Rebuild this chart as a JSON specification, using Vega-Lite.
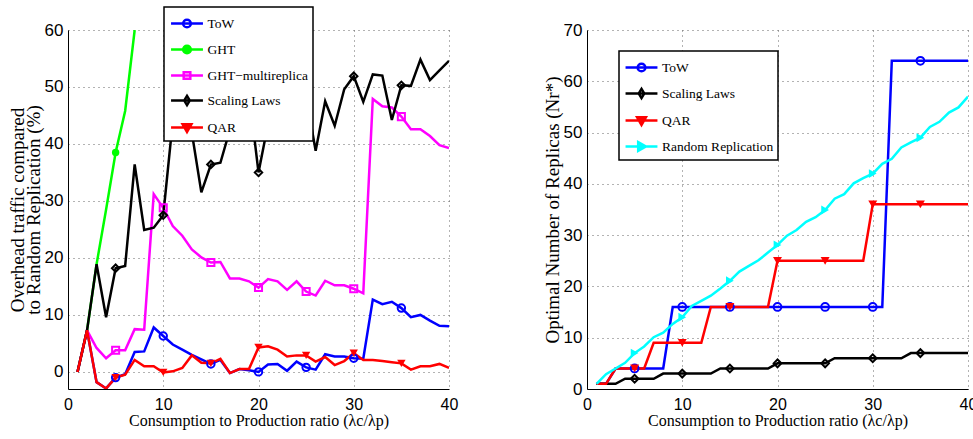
{
  "$schema": "https://vega.github.io/schema/vega-lite/v6.json",
  "padding": {"left": 8, "top": 6, "right": 5, "bottom": 5},
  "background": "white",
  "bounds": "flush",
  "spacing": 138,
  "datasets": {
    "left": [
      {"x":1,"series":"ToW","y":0},{"x":2,"series":"ToW","y":7.3},{"x":3,"series":"ToW","y":-1.8},{"x":4,"series":"ToW","y":-2.9},{"x":5,"series":"ToW","y":-1.0},{"x":6,"series":"ToW","y":-0.4},{"x":7,"series":"ToW","y":3.5},{"x":8,"series":"ToW","y":3.6},{"x":9,"series":"ToW","y":7.8},{"x":10,"series":"ToW","y":6.3},
      {"x":11,"series":"ToW","y":4.8},{"x":12,"series":"ToW","y":3.9},{"x":13,"series":"ToW","y":3.0},{"x":14,"series":"ToW","y":2.2},{"x":15,"series":"ToW","y":1.4},{"x":16,"series":"ToW","y":2.1},{"x":17,"series":"ToW","y":-0.2},{"x":18,"series":"ToW","y":0.5},{"x":19,"series":"ToW","y":0.3},{"x":20,"series":"ToW","y":0.0},
      {"x":21,"series":"ToW","y":1.3},{"x":22,"series":"ToW","y":1.4},{"x":23,"series":"ToW","y":0.2},{"x":24,"series":"ToW","y":1.8},{"x":25,"series":"ToW","y":0.8},{"x":26,"series":"ToW","y":0.4},{"x":27,"series":"ToW","y":3.1},{"x":28,"series":"ToW","y":2.7},{"x":29,"series":"ToW","y":2.7},{"x":30,"series":"ToW","y":2.4},
      {"x":31,"series":"ToW","y":2.3},{"x":32,"series":"ToW","y":12.7},{"x":33,"series":"ToW","y":11.9},{"x":34,"series":"ToW","y":12.3},{"x":35,"series":"ToW","y":11.2},{"x":36,"series":"ToW","y":9.6},{"x":37,"series":"ToW","y":10.0},{"x":38,"series":"ToW","y":9.0},{"x":39,"series":"ToW","y":8.1},{"x":40,"series":"ToW","y":8.0},
      {"x":1,"series":"GHT","y":0},{"x":2,"series":"GHT","y":7.3},{"x":3,"series":"GHT","y":18.9},{"x":4,"series":"GHT","y":28.5},{"x":5,"series":"GHT","y":38.5},{"x":6,"series":"GHT","y":45.8},{"x":7,"series":"GHT","y":60},
      {"x":1,"series":"GHT−multireplica","y":0},{"x":2,"series":"GHT−multireplica","y":7.3},{"x":3,"series":"GHT−multireplica","y":4.2},{"x":4,"series":"GHT−multireplica","y":2.4},{"x":5,"series":"GHT−multireplica","y":3.8},{"x":6,"series":"GHT−multireplica","y":3.8},{"x":7,"series":"GHT−multireplica","y":7.5},{"x":8,"series":"GHT−multireplica","y":7.4},{"x":9,"series":"GHT−multireplica","y":31.2},{"x":10,"series":"GHT−multireplica","y":28.8},
      {"x":11,"series":"GHT−multireplica","y":25.6},{"x":12,"series":"GHT−multireplica","y":23.9},{"x":13,"series":"GHT−multireplica","y":21.5},{"x":14,"series":"GHT−multireplica","y":20.1},{"x":15,"series":"GHT−multireplica","y":19.2},{"x":16,"series":"GHT−multireplica","y":19.3},{"x":17,"series":"GHT−multireplica","y":16.4},{"x":18,"series":"GHT−multireplica","y":16.4},{"x":19,"series":"GHT−multireplica","y":15.9},{"x":20,"series":"GHT−multireplica","y":14.8},
      {"x":21,"series":"GHT−multireplica","y":16.3},{"x":22,"series":"GHT−multireplica","y":15.9},{"x":23,"series":"GHT−multireplica","y":14.4},{"x":24,"series":"GHT−multireplica","y":15.9},{"x":25,"series":"GHT−multireplica","y":14.1},{"x":26,"series":"GHT−multireplica","y":13.4},{"x":27,"series":"GHT−multireplica","y":16.0},{"x":28,"series":"GHT−multireplica","y":15.2},{"x":29,"series":"GHT−multireplica","y":15.2},{"x":30,"series":"GHT−multireplica","y":14.6},
      {"x":31,"series":"GHT−multireplica","y":13.8},{"x":32,"series":"GHT−multireplica","y":47.9},{"x":33,"series":"GHT−multireplica","y":46.6},{"x":34,"series":"GHT−multireplica","y":46.4},{"x":35,"series":"GHT−multireplica","y":44.8},{"x":36,"series":"GHT−multireplica","y":42.6},{"x":37,"series":"GHT−multireplica","y":42.6},{"x":38,"series":"GHT−multireplica","y":41.4},{"x":39,"series":"GHT−multireplica","y":39.8},{"x":40,"series":"GHT−multireplica","y":39.3},
      {"x":1,"series":"Scaling Laws","y":0},{"x":2,"series":"Scaling Laws","y":7.3},{"x":3,"series":"Scaling Laws","y":18.9},{"x":4,"series":"Scaling Laws","y":9.6},{"x":5,"series":"Scaling Laws","y":18.2},{"x":6,"series":"Scaling Laws","y":18.6},{"x":7,"series":"Scaling Laws","y":36.4},{"x":8,"series":"Scaling Laws","y":24.9},{"x":9,"series":"Scaling Laws","y":25.3},{"x":10,"series":"Scaling Laws","y":27.5},
      {"x":11,"series":"Scaling Laws","y":44},{"x":12,"series":"Scaling Laws","y":47},{"x":13,"series":"Scaling Laws","y":42},{"x":14,"series":"Scaling Laws","y":31.5},{"x":15,"series":"Scaling Laws","y":36.4},{"x":16,"series":"Scaling Laws","y":36.7},{"x":17,"series":"Scaling Laws","y":42.5},{"x":18,"series":"Scaling Laws","y":46},{"x":19,"series":"Scaling Laws","y":49},{"x":20,"series":"Scaling Laws","y":35.0},
      {"x":21,"series":"Scaling Laws","y":43.5},{"x":22,"series":"Scaling Laws","y":47},{"x":23,"series":"Scaling Laws","y":44},{"x":24,"series":"Scaling Laws","y":49},{"x":25,"series":"Scaling Laws","y":48.4},{"x":26,"series":"Scaling Laws","y":38.8},{"x":27,"series":"Scaling Laws","y":47.5},{"x":28,"series":"Scaling Laws","y":43.2},{"x":29,"series":"Scaling Laws","y":49.6},{"x":30,"series":"Scaling Laws","y":51.9},
      {"x":31,"series":"Scaling Laws","y":47.4},{"x":32,"series":"Scaling Laws","y":52.2},{"x":33,"series":"Scaling Laws","y":52.0},{"x":34,"series":"Scaling Laws","y":44.2},{"x":35,"series":"Scaling Laws","y":50.3},{"x":36,"series":"Scaling Laws","y":50.2},{"x":37,"series":"Scaling Laws","y":54.8},{"x":38,"series":"Scaling Laws","y":51.2},{"x":39,"series":"Scaling Laws","y":52.9},{"x":40,"series":"Scaling Laws","y":54.6},
      {"x":1,"series":"QAR","y":0},{"x":2,"series":"QAR","y":7.3},{"x":3,"series":"QAR","y":-1.8},{"x":4,"series":"QAR","y":-2.9},{"x":5,"series":"QAR","y":-1.0},{"x":6,"series":"QAR","y":-0.5},{"x":7,"series":"QAR","y":2.1},{"x":8,"series":"QAR","y":1.0},{"x":9,"series":"QAR","y":1.0},{"x":10,"series":"QAR","y":-0.1},
      {"x":11,"series":"QAR","y":0.1},{"x":12,"series":"QAR","y":0.7},{"x":13,"series":"QAR","y":2.9},{"x":14,"series":"QAR","y":1.6},{"x":15,"series":"QAR","y":1.5},{"x":16,"series":"QAR","y":2.3},{"x":17,"series":"QAR","y":-0.2},{"x":18,"series":"QAR","y":0.5},{"x":19,"series":"QAR","y":0.5},{"x":20,"series":"QAR","y":4.3},
      {"x":21,"series":"QAR","y":4.5},{"x":22,"series":"QAR","y":3.9},{"x":23,"series":"QAR","y":2.7},{"x":24,"series":"QAR","y":2.9},{"x":25,"series":"QAR","y":2.9},{"x":26,"series":"QAR","y":1.8},{"x":27,"series":"QAR","y":2.6},{"x":28,"series":"QAR","y":1.2},{"x":29,"series":"QAR","y":1.9},{"x":30,"series":"QAR","y":3.3},
      {"x":31,"series":"QAR","y":2.1},{"x":32,"series":"QAR","y":2.1},{"x":33,"series":"QAR","y":1.9},{"x":34,"series":"QAR","y":1.7},{"x":35,"series":"QAR","y":1.5},{"x":36,"series":"QAR","y":0.4},{"x":37,"series":"QAR","y":1.0},{"x":38,"series":"QAR","y":1.0},{"x":39,"series":"QAR","y":1.4},{"x":40,"series":"QAR","y":0.7}
    ],
    "right": [
      {"x":1,"series":"ToW","y":1},{"x":2,"series":"ToW","y":1},{"x":3,"series":"ToW","y":4},{"x":4,"series":"ToW","y":4},{"x":5,"series":"ToW","y":4},{"x":6,"series":"ToW","y":4},{"x":7,"series":"ToW","y":4},{"x":8,"series":"ToW","y":4},{"x":9,"series":"ToW","y":16},{"x":10,"series":"ToW","y":16},
      {"x":11,"series":"ToW","y":16},{"x":12,"series":"ToW","y":16},{"x":13,"series":"ToW","y":16},{"x":14,"series":"ToW","y":16},{"x":15,"series":"ToW","y":16},{"x":16,"series":"ToW","y":16},{"x":17,"series":"ToW","y":16},{"x":18,"series":"ToW","y":16},{"x":19,"series":"ToW","y":16},{"x":20,"series":"ToW","y":16},
      {"x":21,"series":"ToW","y":16},{"x":22,"series":"ToW","y":16},{"x":23,"series":"ToW","y":16},{"x":24,"series":"ToW","y":16},{"x":25,"series":"ToW","y":16},{"x":26,"series":"ToW","y":16},{"x":27,"series":"ToW","y":16},{"x":28,"series":"ToW","y":16},{"x":29,"series":"ToW","y":16},{"x":30,"series":"ToW","y":16},
      {"x":31,"series":"ToW","y":16},{"x":32,"series":"ToW","y":64},{"x":33,"series":"ToW","y":64},{"x":34,"series":"ToW","y":64},{"x":35,"series":"ToW","y":64},{"x":36,"series":"ToW","y":64},{"x":37,"series":"ToW","y":64},{"x":38,"series":"ToW","y":64},{"x":39,"series":"ToW","y":64},{"x":40,"series":"ToW","y":64},
      {"x":1,"series":"Scaling Laws","y":1},{"x":2,"series":"Scaling Laws","y":1},{"x":3,"series":"Scaling Laws","y":1},{"x":4,"series":"Scaling Laws","y":2},{"x":5,"series":"Scaling Laws","y":2},{"x":6,"series":"Scaling Laws","y":2},{"x":7,"series":"Scaling Laws","y":2},{"x":8,"series":"Scaling Laws","y":3},{"x":9,"series":"Scaling Laws","y":3},{"x":10,"series":"Scaling Laws","y":3},
      {"x":11,"series":"Scaling Laws","y":3},{"x":12,"series":"Scaling Laws","y":3},{"x":13,"series":"Scaling Laws","y":3},{"x":14,"series":"Scaling Laws","y":4},{"x":15,"series":"Scaling Laws","y":4},{"x":16,"series":"Scaling Laws","y":4},{"x":17,"series":"Scaling Laws","y":4},{"x":18,"series":"Scaling Laws","y":4},{"x":19,"series":"Scaling Laws","y":4},{"x":20,"series":"Scaling Laws","y":5},
      {"x":21,"series":"Scaling Laws","y":5},{"x":22,"series":"Scaling Laws","y":5},{"x":23,"series":"Scaling Laws","y":5},{"x":24,"series":"Scaling Laws","y":5},{"x":25,"series":"Scaling Laws","y":5},{"x":26,"series":"Scaling Laws","y":6},{"x":27,"series":"Scaling Laws","y":6},{"x":28,"series":"Scaling Laws","y":6},{"x":29,"series":"Scaling Laws","y":6},{"x":30,"series":"Scaling Laws","y":6},
      {"x":31,"series":"Scaling Laws","y":6},{"x":32,"series":"Scaling Laws","y":6},{"x":33,"series":"Scaling Laws","y":6},{"x":34,"series":"Scaling Laws","y":7},{"x":35,"series":"Scaling Laws","y":7},{"x":36,"series":"Scaling Laws","y":7},{"x":37,"series":"Scaling Laws","y":7},{"x":38,"series":"Scaling Laws","y":7},{"x":39,"series":"Scaling Laws","y":7},{"x":40,"series":"Scaling Laws","y":7},
      {"x":1,"series":"QAR","y":1},{"x":2,"series":"QAR","y":1},{"x":3,"series":"QAR","y":4},{"x":4,"series":"QAR","y":4},{"x":5,"series":"QAR","y":4},{"x":6,"series":"QAR","y":4},{"x":7,"series":"QAR","y":9},{"x":8,"series":"QAR","y":9},{"x":9,"series":"QAR","y":9},{"x":10,"series":"QAR","y":9},
      {"x":11,"series":"QAR","y":9},{"x":12,"series":"QAR","y":9},{"x":13,"series":"QAR","y":16},{"x":14,"series":"QAR","y":16},{"x":15,"series":"QAR","y":16},{"x":16,"series":"QAR","y":16},{"x":17,"series":"QAR","y":16},{"x":18,"series":"QAR","y":16},{"x":19,"series":"QAR","y":16},{"x":20,"series":"QAR","y":25},
      {"x":21,"series":"QAR","y":25},{"x":22,"series":"QAR","y":25},{"x":23,"series":"QAR","y":25},{"x":24,"series":"QAR","y":25},{"x":25,"series":"QAR","y":25},{"x":26,"series":"QAR","y":25},{"x":27,"series":"QAR","y":25},{"x":28,"series":"QAR","y":25},{"x":29,"series":"QAR","y":25},{"x":30,"series":"QAR","y":36},
      {"x":31,"series":"QAR","y":36},{"x":32,"series":"QAR","y":36},{"x":33,"series":"QAR","y":36},{"x":34,"series":"QAR","y":36},{"x":35,"series":"QAR","y":36},{"x":36,"series":"QAR","y":36},{"x":37,"series":"QAR","y":36},{"x":38,"series":"QAR","y":36},{"x":39,"series":"QAR","y":36},{"x":40,"series":"QAR","y":36},
      {"x":1,"series":"Random Replication","y":1},{"x":2,"series":"Random Replication","y":2.9},{"x":3,"series":"Random Replication","y":4.0},{"x":4,"series":"Random Replication","y":5.1},{"x":5,"series":"Random Replication","y":7.0},{"x":6,"series":"Random Replication","y":8.3},{"x":7,"series":"Random Replication","y":10.1},{"x":8,"series":"Random Replication","y":11.0},{"x":9,"series":"Random Replication","y":12.7},{"x":10,"series":"Random Replication","y":14.0},
      {"x":11,"series":"Random Replication","y":16.2},{"x":12,"series":"Random Replication","y":17.2},{"x":13,"series":"Random Replication","y":18.2},{"x":14,"series":"Random Replication","y":19.6},{"x":15,"series":"Random Replication","y":21.1},{"x":16,"series":"Random Replication","y":22.9},{"x":17,"series":"Random Replication","y":24.0},{"x":18,"series":"Random Replication","y":25.1},{"x":19,"series":"Random Replication","y":26.6},{"x":20,"series":"Random Replication","y":28.1},
      {"x":21,"series":"Random Replication","y":29.9},{"x":22,"series":"Random Replication","y":31.0},{"x":23,"series":"Random Replication","y":32.6},{"x":24,"series":"Random Replication","y":33.5},{"x":25,"series":"Random Replication","y":34.9},{"x":26,"series":"Random Replication","y":37.1},{"x":27,"series":"Random Replication","y":38.0},{"x":28,"series":"Random Replication","y":40.1},{"x":29,"series":"Random Replication","y":41.1},{"x":30,"series":"Random Replication","y":42.0},
      {"x":31,"series":"Random Replication","y":43.9},{"x":32,"series":"Random Replication","y":44.9},{"x":33,"series":"Random Replication","y":47.1},{"x":34,"series":"Random Replication","y":48.1},{"x":35,"series":"Random Replication","y":49.0},{"x":36,"series":"Random Replication","y":51.1},{"x":37,"series":"Random Replication","y":52.1},{"x":38,"series":"Random Replication","y":53.9},{"x":39,"series":"Random Replication","y":54.9},{"x":40,"series":"Random Replication","y":57.0}
    ]
  },
  "hconcat": [
    {
      "width": 381,
      "height": 359,
      "data": {"name": "left"},
      "encoding": {
        "x": {"field": "x", "type": "quantitative", "scale": {"domain": [0, 40], "nice": false}, "axis": {"values": [0, 10, 20, 30, 40], "title": "Consumption to Production ratio (λc/λp)"}},
        "y": {"field": "y", "type": "quantitative", "scale": {"domain": [-3, 60], "nice": false, "zero": false}, "axis": {"values": [0, 10, 20, 30, 40, 50, 60], "title": ["Overhead traffic compared", "to Random Replication (%)"]}}
      },
      "layer": [
        {
          "mark": {"type": "line", "strokeWidth": 2.5, "clip": true},
          "encoding": {
            "color": {
              "field": "series", "type": "nominal",
              "scale": {"domain": ["ToW", "GHT", "GHT−multireplica", "Scaling Laws", "QAR"], "range": ["#0000ff", "#00ff00", "#ff00ff", "#000000", "#ff0000"]},
              "legend": {
                "orient": "none", "legendX": 96, "legendY": -23, "title": null,
                "strokeColor": "black", "fillColor": "white", "padding": 4,
                "symbolSize": 484, "symbolStrokeWidth": 2.5, "rowPadding": 4, "symbolOffset": 6.5, "labelOffset": 8,
                "labelFont": "Liberation Serif", "labelFontSize": 13.5, "labelColor": "black",
                "encode": {
                  "legend": {"update": {"strokeWidth": {"value": 1.5}}},
                  "symbols": {"update": {
                    "shape": {"signal": "datum.value == 'ToW' || datum.value == 'GHT' ? 'M-1.45,0H1.45M-0.35,0A0.35,0.35,0,1,1,0.35,0A0.35,0.35,0,1,1,-0.35,0' : datum.value == 'QAR' ? 'M-1.45,0H1.45M-0.4,-0.3H0.4L0,0.4Z' : datum.value == 'Scaling Laws' ? 'M-1.45,0H1.45M0,-0.42L0.25,0L0,0.42L-0.25,0Z' : 'M-1.45,0H1.45M-0.3,-0.3H0.3V0.3H-0.3Z'"},
                    "fill": {"signal": "datum.value == 'GHT' ? '#00ff00' : datum.value == 'QAR' ? '#ff0000' : 'transparent'"}
                  }}
                }
              }
            }
          }
        },
        {"transform": [{"filter": "datum.series == 'ToW' && datum.x % 5 == 0 && datum.x < 40"}], "mark": {"type": "point", "shape": "circle", "filled": false, "color": "#0000ff", "strokeWidth": 2, "size": 55, "opacity": 1, "clip": true}},
        {"transform": [{"filter": "datum.series == 'GHT' && datum.x % 5 == 0 && datum.x < 40"}], "mark": {"type": "point", "shape": "circle", "filled": true, "color": "#00ff00", "size": 55, "opacity": 1, "clip": true}},
        {"transform": [{"filter": "datum.series == 'GHT−multireplica' && datum.x % 5 == 0 && datum.x < 40"}], "mark": {"type": "point", "shape": "square", "filled": false, "color": "#ff00ff", "strokeWidth": 2, "size": 50, "opacity": 1, "clip": true}},
        {"transform": [{"filter": "datum.series == 'Scaling Laws' && datum.x % 5 == 0 && datum.x < 40"}], "mark": {"type": "point", "shape": "diamond", "filled": false, "color": "#000000", "strokeWidth": 2, "size": 55, "opacity": 1, "clip": true}},
        {"transform": [{"filter": "datum.series == 'QAR' && datum.x % 5 == 0 && datum.x < 40"}], "mark": {"type": "point", "shape": "triangle-down", "filled": true, "color": "#ff0000", "size": 70, "opacity": 1, "clip": true}}
      ]
    },
    {
      "width": 381,
      "height": 359,
      "data": {"name": "right"},
      "encoding": {
        "x": {"field": "x", "type": "quantitative", "scale": {"domain": [0, 40], "nice": false}, "axis": {"values": [0, 10, 20, 30, 40], "title": "Consumption to Production ratio (λc/λp)"}},
        "y": {"field": "y", "type": "quantitative", "scale": {"domain": [0, 70], "nice": false}, "axis": {"values": [0, 10, 20, 30, 40, 50, 60, 70], "title": "Optimal Number of Replicas (Nr*)"}}
      },
      "layer": [
        {
          "mark": {"type": "line", "strokeWidth": 2.5, "clip": true},
          "encoding": {
            "color": {
              "field": "series", "type": "nominal",
              "scale": {"domain": ["ToW", "Scaling Laws", "QAR", "Random Replication"], "range": ["#0000ff", "#000000", "#ff0000", "#00ffff"]},
              "legend": {
                "orient": "none", "legendX": 32, "legendY": 21, "title": null,
                "strokeColor": "black", "fillColor": "white", "padding": 4,
                "symbolSize": 484, "symbolStrokeWidth": 2.5, "rowPadding": 4, "symbolOffset": 6, "labelOffset": 8,
                "labelFont": "Liberation Serif", "labelFontSize": 13.5, "labelColor": "black",
                "encode": {
                  "legend": {"update": {"strokeWidth": {"value": 1.5}}},
                  "symbols": {"update": {
                    "shape": {"signal": "datum.value == 'ToW' ? 'M-1.45,0H1.45M-0.35,0A0.35,0.35,0,1,1,0.35,0A0.35,0.35,0,1,1,-0.35,0' : datum.value == 'QAR' ? 'M-1.45,0H1.45M-0.4,-0.3H0.4L0,0.4Z' : datum.value == 'Scaling Laws' ? 'M-1.45,0H1.45M0,-0.42L0.25,0L0,0.42L-0.25,0Z' : 'M-1.45,0H1.45M-0.3,-0.4L0.4,0L-0.3,0.4Z'"},
                    "fill": {"signal": "datum.value == 'Random Replication' ? '#00ffff' : datum.value == 'QAR' ? '#ff0000' : 'transparent'"}
                  }}
                }
              }
            }
          }
        },
        {"transform": [{"filter": "datum.series == 'ToW' && datum.x % 5 == 0 && datum.x < 40"}], "mark": {"type": "point", "shape": "circle", "filled": false, "color": "#0000ff", "strokeWidth": 2, "size": 60, "opacity": 1}},
        {"transform": [{"filter": "datum.series == 'Scaling Laws' && datum.x % 5 == 0 && datum.x < 40"}], "mark": {"type": "point", "shape": "diamond", "filled": false, "color": "#000000", "strokeWidth": 2, "size": 60, "opacity": 1}},
        {"transform": [{"filter": "datum.series == 'QAR' && datum.x % 5 == 0 && datum.x < 40"}], "mark": {"type": "point", "shape": "triangle-down", "filled": true, "color": "#ff0000", "size": 80, "opacity": 1}},
        {"transform": [{"filter": "datum.series == 'Random Replication' && datum.x % 5 == 0 && datum.x < 40"}], "mark": {"type": "point", "shape": "triangle-right", "filled": true, "color": "#00ffff", "size": 80, "opacity": 1}}
      ]
    }
  ],
  "resolve": {
    "scale": {"color": "independent", "x": "independent", "y": "independent"},
    "legend": {"color": "independent"}
  },
  "config": {
    "view": {"stroke": null},
    "axis": {
      "domainColor": "black", "domainWidth": 1,
      "grid": true, "gridColor": "#666666", "gridDash": [1, 4], "gridWidth": 1, "gridOpacity": 1,
      "ticks": false,
      "labelFont": "Liberation Sans", "labelFontSize": 17, "labelColor": "black",
      "titleFont": "Liberation Serif", "titleFontSize": 16, "titleFontWeight": "normal", "titleColor": "black"
    },
    "axisX": {"labelPadding": 7, "titlePadding": 0, "labelFlush": false, "labelFontSize": 16},
    "axisY": {"labelPadding": 5, "titlePadding": 1, "titleFontSize": 19, "titleLineHeight": 16}
  }
}
